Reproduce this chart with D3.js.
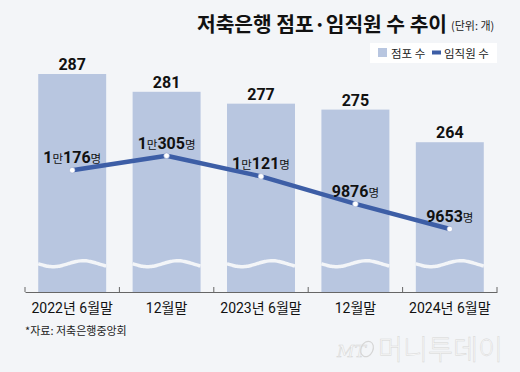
<!DOCTYPE html>
<html>
<head>
<meta charset="utf-8">
<script src="https://cdn.jsdelivr.net/npm/d3@7"></script>
<style>
  body { margin: 0; background: #f3f5f8; }
  svg { display: block; }
</style>
</head>
<body>
<svg id="chart" width="520" height="372"></svg>
<script>
// Data
var categories = ["2022년 6월말", "12월말", "2023년 6월말", "12월말", "2024년 6월말"];
var branches = [287, 281, 277, 275, 264];       // 점포 수 (개)
var staff = [10176, 10305, 10121, 9876, 9653];  // 임직원 수 (명)

var numFont = "'Liberation Sans Narrow', 'Roboto', 'Noto Sans CJK KR', sans-serif";
var krFont = "'Noto Sans CJK KR', sans-serif";
var barColor = "#b8c6e0";
var lineColor = "#3d5ea6";
var bg = "#f3f5f8";

var svg = d3.select("#chart");
svg.append("rect").attr("width", 520).attr("height", 372).attr("fill", bg);

var idx = categories.map(function(d, i) { return i; });

// Scales
var x = d3.scaleBand().domain(idx).range([25, 497]).paddingInner(0.28).paddingOuter(0.14);
var yBar = d3.scaleLinear().domain([213.5, 287]).range([292, 74]);   // broken axis (wave)
var yLine = d3.scaleLinear().domain([9000, 11000]).range([302.5, 77.5]);

// Bars
svg.append("g").selectAll("rect")
  .data(branches)
  .join("rect")
  .attr("x", function(d, i) { return x(i); })
  .attr("y", function(d) { return yBar(d); })
  .attr("width", x.bandwidth())
  .attr("height", function(d) { return yBar.range()[0] - yBar(d); })
  .attr("fill", barColor);

// Wave break across each bar
var wave = d3.line().curve(d3.curveBasis);
svg.append("g").selectAll("path")
  .data(idx)
  .join("path")
  .attr("d", function(i) {
    var x0 = x(i), w = x.bandwidth(), pts = [];
    for (var k = 0; k <= 34; k++) {
      var px = x0 + w * k / 34;
      pts.push([px, 263.7 + 3 * Math.sin(2 * Math.PI * (px - x0) / 60)]);
    }
    return wave(pts);
  })
  .attr("fill", "none")
  .attr("stroke", bg)
  .attr("stroke-width", 3.5);

// Bar value labels
svg.append("g").selectAll("text")
  .data(branches)
  .join("text")
  .attr("x", function(d, i) { return x(i) + x.bandwidth() / 2; })
  .attr("y", function(d) { return yBar(d) - 4; })
  .attr("text-anchor", "middle")
  .attr("font-family", numFont)
  .attr("font-weight", "bold")
  .attr("font-size", 16)
  .attr("fill", "#111")
  .text(function(d) { return d; });

// Axis
var axis = d3.axisBottom(x).tickSize(0).tickPadding(11)
  .tickFormat(function(i) { return categories[i]; });
var gx = svg.append("g").attr("transform", "translate(0,292)").call(axis);
gx.select(".domain").attr("stroke", "#666").attr("stroke-width", 1);
gx.selectAll("text")
  .attr("font-family", numFont)
  .attr("font-size", 14)
  .attr("fill", "#111");
// boundary ticks (pointing up)
var bounds = d3.range(categories.length + 1).map(function(i) {
  return x.range()[0] + i * x.step();
});
gx.selectAll(".btick")
  .data(bounds)
  .join("line")
  .attr("class", "btick")
  .attr("x1", function(d) { return d; })
  .attr("x2", function(d) { return d; })
  .attr("y1", 0)
  .attr("y2", -5)
  .attr("stroke", "#666");

// Staff line
var line = d3.line()
  .x(function(d, i) { return x(i) + x.bandwidth() / 2; })
  .y(function(d) { return yLine(d); });
svg.append("path")
  .datum(staff)
  .attr("d", line)
  .attr("fill", "none")
  .attr("stroke", lineColor)
  .attr("stroke-width", 4.5)
  .attr("stroke-linejoin", "round");

svg.append("g").selectAll("circle")
  .data(staff)
  .join("circle")
  .attr("cx", function(d, i) { return x(i) + x.bandwidth() / 2; })
  .attr("cy", function(d) { return yLine(d); })
  .attr("r", 2.8)
  .attr("fill", "#fff")
  .attr("stroke", "#9aaace")
  .attr("stroke-width", 0.6);

// Staff labels: "1만176명"
var lbl = svg.append("g").selectAll("text")
  .data(staff)
  .join("text")
  .attr("x", function(d, i) { return x(i) + x.bandwidth() / 2; })
  .attr("y", function(d) { return yLine(d) - 7; })
  .attr("text-anchor", "middle")
  .attr("fill", "#111");
lbl.each(function(d) {
  var t = d3.select(this);
  var man = Math.floor(d / 10000), rest = d % 10000;
  if (man > 0) {
    t.append("tspan").attr("font-family", numFont).attr("font-weight", "bold").attr("font-size", 16).text(man);
    t.append("tspan").attr("font-family", krFont).attr("font-size", 11.5).text("만");
  }
  t.append("tspan").attr("font-family", numFont).attr("font-weight", "bold").attr("font-size", 16).text(rest);
  t.append("tspan").attr("font-family", krFont).attr("font-size", 11.5).text("명");
});

// Title
svg.append("text")
  .attr("x", 197).attr("y", 32)
  .attr("font-family", krFont)
  .attr("font-weight", "bold")
  .attr("font-size", 20)
  .attr("textLength", 250)
  .attr("lengthAdjust", "spacingAndGlyphs")
  .attr("fill", "#111")
  .text("저축은행 점포·임직원 수 추이");
svg.append("text")
  .attr("x", 451).attr("y", 30)
  .attr("font-family", krFont)
  .attr("font-size", 11)
  .attr("fill", "#222")
  .text("(단위: 개)");

// Legend
var lg = svg.append("g");
lg.append("rect").attr("x", 370).attr("y", 43).attr("width", 127).attr("height", 20).attr("fill", "#fff");
lg.append("rect").attr("x", 378).attr("y", 48).attr("width", 9).attr("height", 9).attr("fill", barColor);
lg.append("text").attr("x", 391).attr("y", 57.5)
  .attr("font-family", krFont).attr("font-size", 11.5).attr("fill", "#222").text("점포 수");
lg.append("rect").attr("x", 432).attr("y", 50.5).attr("width", 9).attr("height", 4).attr("fill", lineColor);
lg.append("text").attr("x", 444).attr("y", 57.5)
  .attr("font-family", krFont).attr("font-size", 11.5).attr("fill", "#222").text("임직원 수");

// Source
svg.append("text")
  .attr("x", 25).attr("y", 335)
  .attr("font-family", krFont)
  .attr("font-size", 11)
  .attr("fill", "#222")
  .text("*자료: 저축은행중앙회");

// Watermark
var wm = svg.append("g").attr("fill", "#f9f9f9").attr("stroke", "#d6d6d6").attr("stroke-width", 0.5);
wm.append("text").attr("x", 337).attr("y", 357)
  .attr("font-family", "'DejaVu Serif', serif").attr("font-style", "italic")
  .attr("font-size", 17).text("MT");
wm.append("ellipse").attr("cx", 367).attr("cy", 349).attr("rx", 6).attr("ry", 8)
  .attr("transform", "rotate(25,367,349)").attr("fill", "none").attr("stroke-width", 1.2);
wm.append("text").attr("x", 378).attr("y", 360)
  .attr("font-family", krFont).attr("font-weight", 300)
  .attr("font-size", 28).attr("textLength", 125).attr("lengthAdjust", "spacingAndGlyphs")
  .text("머니투데이");
</script>
</body>
</html>
